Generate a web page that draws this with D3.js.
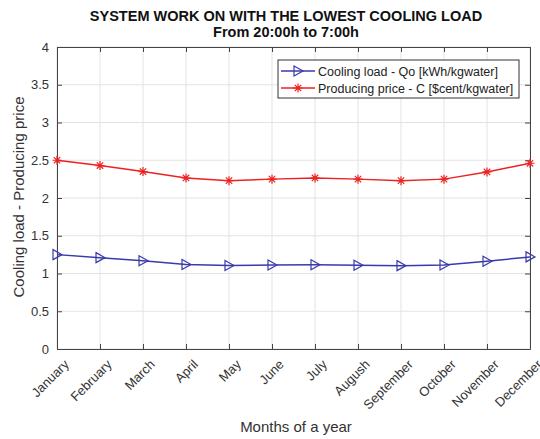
<!DOCTYPE html>
<html><head><meta charset="utf-8">
<script src="https://cdn.jsdelivr.net/npm/d3@7"></script>
<style>body{margin:0;background:#fff;} text{font-family:"Liberation Sans",Arial,sans-serif;}</style>
</head><body>
<svg id="c" width="540" height="439"></svg>
<script>
const months = ["January","February","March","April","May","June","July","Augush","September","October","November","December"];
const coolingLoad = [1.25,1.21,1.17,1.12,1.105,1.113,1.117,1.11,1.104,1.113,1.163,1.22];
const producingPrice = [2.50,2.43,2.35,2.265,2.23,2.25,2.265,2.25,2.23,2.25,2.345,2.46];
const yTicks = [0,0.5,1,1.5,2,2.5,3,3.5,4];
const yTickLabels = ["0","0.5","1","1.5","2","2.5","3","3.5","4"];

const svg = d3.select("#c");
const L=57, R=530, T=47, B=349;
const x = d3.scalePoint().domain(months).range([L,R]);
const y = d3.scaleLinear().domain([0,4]).range([B,T]);
const txt = "#333";

// grid
svg.append("g").selectAll("line").data(months).join("line")
  .attr("x1",d=>x(d)).attr("x2",d=>x(d)).attr("y1",T).attr("y2",B)
  .attr("stroke","#e3e3e3").attr("stroke-width",1);
svg.append("g").selectAll("line").data(yTicks).join("line")
  .attr("x1",L).attr("x2",R).attr("y1",d=>y(d)).attr("y2",d=>y(d))
  .attr("stroke","#e3e3e3").attr("stroke-width",1);

// axes
const xa = svg.append("g").attr("transform",`translate(0,${B})`)
  .call(d3.axisBottom(x).tickSizeInner(-5).tickSizeOuter(0));
xa.select(".domain").attr("stroke","#444");
xa.selectAll(".tick line").attr("stroke","#444");
xa.selectAll("text").attr("font-size",13).attr("fill",txt)
  .attr("text-anchor","end").attr("x",0).attr("y",0).attr("dy","0.35em")
  .attr("transform","translate(9,13) rotate(-45)");
const xt = svg.append("g").attr("transform",`translate(0,${T})`)
  .call(d3.axisTop(x).tickSizeInner(-5).tickSizeOuter(0).tickFormat(""));
xt.selectAll("line,path").attr("stroke","#444");

const ya = svg.append("g").attr("transform",`translate(${L},0)`)
  .call(d3.axisLeft(y).tickValues(yTicks).tickFormat((d,i)=>yTickLabels[i]).tickSizeInner(-5).tickSizeOuter(0).tickPadding(8));
ya.selectAll("line,path").attr("stroke","#444");
ya.selectAll("text").attr("font-size",13).attr("fill",txt);
const yr = svg.append("g").attr("transform",`translate(${R},0)`)
  .call(d3.axisRight(y).tickValues(yTicks).tickSizeInner(-5).tickSizeOuter(0).tickFormat(""));
yr.selectAll("line,path").attr("stroke","#444");

// lines
const blue="#3a3aae", red="#ee2020";
const line = d3.line().x((d,i)=>x(months[i])).y(d=>y(d));
svg.append("path").datum(coolingLoad).attr("d",line).attr("fill","none").attr("stroke",blue).attr("stroke-width",1.5);
svg.append("path").datum(producingPrice).attr("d",line).attr("fill","none").attr("stroke",red).attr("stroke-width",1.5);

function tri(g,cx,cy,col){
  g.append("path").attr("d",`M${cx-4},${cy-5}L${cx+5},${cy}L${cx-4},${cy+5}Z`)
   .attr("fill","none").attr("stroke",col).attr("stroke-width",1.2);
}
function star(g,cx,cy,col){
  const s=4.5, d=3.2;
  g.append("path").attr("d",`M${cx},${cy-s}V${cy+s}M${cx-s},${cy}H${cx+s}M${cx-d},${cy-d}L${cx+d},${cy+d}M${cx-d},${cy+d}L${cx+d},${cy-d}`)
   .attr("stroke",col).attr("stroke-width",1.2);
}
const mk = svg.append("g");
coolingLoad.forEach((v,i)=>tri(mk,x(months[i]),y(v),blue));
producingPrice.forEach((v,i)=>star(mk,x(months[i]),y(v),red));

// legend
const lg = svg.append("g");
lg.append("rect").attr("x",278).attr("y",60).attr("width",241).attr("height",38)
  .attr("fill","#fff").attr("stroke","#333").attr("stroke-width",1);
lg.append("line").attr("x1",281).attr("x2",315).attr("y1",71).attr("y2",71).attr("stroke",blue).attr("stroke-width",1.5);
tri(lg,298,71,blue);
lg.append("line").attr("x1",281).attr("x2",315).attr("y1",88).attr("y2",88).attr("stroke",red).attr("stroke-width",1.5);
star(lg,298,88,red);
lg.append("text").attr("x",318).attr("y",75.5).attr("font-size",12.5).attr("fill","#222").text("Cooling load - Qo [kWh/kgwater]");
lg.append("text").attr("x",318).attr("y",92.5).attr("font-size",12.5).attr("fill","#222").text("Producing price - C [$cent/kgwater]");

// titles
svg.append("text").attr("x",286).attr("y",21).attr("text-anchor","middle").attr("font-size",14.5).attr("font-weight","bold").attr("fill","#111")
  .text("SYSTEM WORK ON WITH THE LOWEST COOLING LOAD");
svg.append("text").attr("x",286).attr("y",37).attr("text-anchor","middle").attr("font-size",14.5).attr("font-weight","bold").attr("fill","#111")
  .text("From 20:00h to 7:00h");
svg.append("text").attr("x",296).attr("y",432).attr("text-anchor","middle").attr("font-size",15).attr("fill",txt).text("Months of a year");
svg.append("text").attr("transform","translate(24,197) rotate(-90)").attr("text-anchor","middle").attr("font-size",15).attr("fill",txt).text("Cooling load - Producing price");
</script>
</body></html>
